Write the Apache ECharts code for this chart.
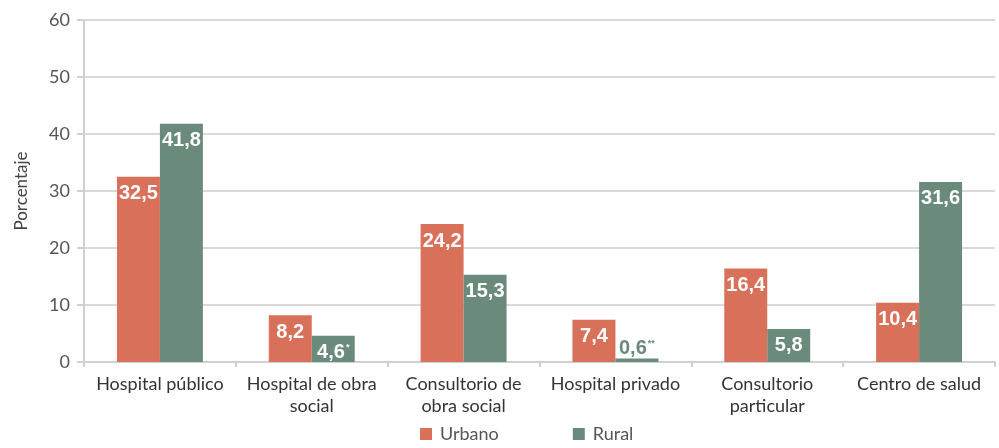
<!DOCTYPE html>
<html>
<head>
<meta charset="utf-8">
<script src="https://cdn.jsdelivr.net/npm/echarts@6/dist/echarts.min.js"></script>
<style>
html, body { margin: 0; padding: 0; background: #fff; }
#chart { width: 999px; height: 448px; }
</style>
</head>
<body>
<div id="chart"></div>
<script>
var categorias = ["Hospital público", "Hospital de obra\nsocial", "Consultorio de\nobra social", "Hospital privado", "Consultorio\nparticular", "Centro de salud"];
var urbano = [32.5, 8.2, 24.2, 7.4, 16.4, 10.4];
var rural = [41.8, 4.6, 15.3, 0.6, 5.8, 31.6];
var notasRural = ["", "*", "", "**", "", ""];
var ticksY = [0, 10, 20, 30, 40, 50, 60];

var naranja = "#D9705A";
var verde = "#6A8A7C";

function coma(v) {
    return v.toFixed(1).replace(".", ",");
}

var datosRural = rural.map(function (v, i) {
    var d = { value: v };
    if (v < 2) {
        d.label = { position: "top", distance: 0, color: verde };
    }
    return d;
});

var myChart = echarts.init(document.getElementById("chart"));
var option = {
    animation: false,
    grid: { left: 84, right: 4, top: 20, bottom: 86 },
    legend: {
        bottom: 0,
        left: 420,
        padding: [5, 0, 5, 0],
        itemWidth: 12,
        itemHeight: 12,
        itemGap: 74,
        icon: "rect",
        textStyle: { fontFamily: "Lato", fontSize: 18, color: "#555", padding: [0, 0, 0, 3] },
        data: ["Urbano", "Rural"]
    },
    xAxis: {
        type: "category",
        data: categorias,
        axisLine: { lineStyle: { color: "#d0d0d0", width: 2 } },
        axisTick: { show: true, length: 5, lineStyle: { color: "#d0d0d0", width: 2 } },
        axisLabel: { interval: 0, fontFamily: "Lato", fontSize: 18, color: "#333", lineHeight: 22, margin: 11 }
    },
    yAxis: {
        type: "value",
        min: ticksY[0],
        max: ticksY[ticksY.length - 1],
        interval: 10,
        name: "Porcentaje",
        nameLocation: "middle",
        nameGap: 54,
        nameTextStyle: { fontFamily: "Lato", fontSize: 17, color: "#444" },
        axisLine: { show: true, lineStyle: { color: "#d0d0d0", width: 2 } },
        axisTick: { show: true, length: 7, lineStyle: { color: "#d0d0d0", width: 2 } },
        axisLabel: { fontFamily: "Lato", fontSize: 18, color: "#555", margin: 14 },
        splitLine: { lineStyle: { color: "#d9d9d9", width: 2 } }
    },
    series: [
        {
            name: "Urbano",
            type: "bar",
            data: urbano,
            barWidth: "28.3%",
            barGap: "0%",
            itemStyle: { color: naranja },
            label: {
                show: true,
                position: "insideTop",
                distance: 7,
                color: "#fff",
                fontFamily: "Liberation Sans",
                fontWeight: "bold",
                fontSize: 20,
                formatter: function (p) { return coma(p.value); }
            }
        },
        {
            name: "Rural",
            type: "bar",
            data: datosRural,
            barWidth: "28.3%",
            barGap: "0%",
            itemStyle: { color: verde },
            label: {
                show: true,
                position: "insideTop",
                distance: 7,
                color: "#fff",
                fontFamily: "Liberation Sans",
                fontWeight: "bold",
                fontSize: 20,
                formatter: function (p) {
                    var n = notasRural[p.dataIndex];
                    return coma(p.value) + (n ? "{sup|" + n + "}" : "");
                },
                rich: {
                    sup: { fontSize: 9, fontWeight: "bold", padding: [0, 0, 11, 1] }
                }
            }
        }
    ]
};
myChart.setOption(option);
</script>
</body>
</html>
